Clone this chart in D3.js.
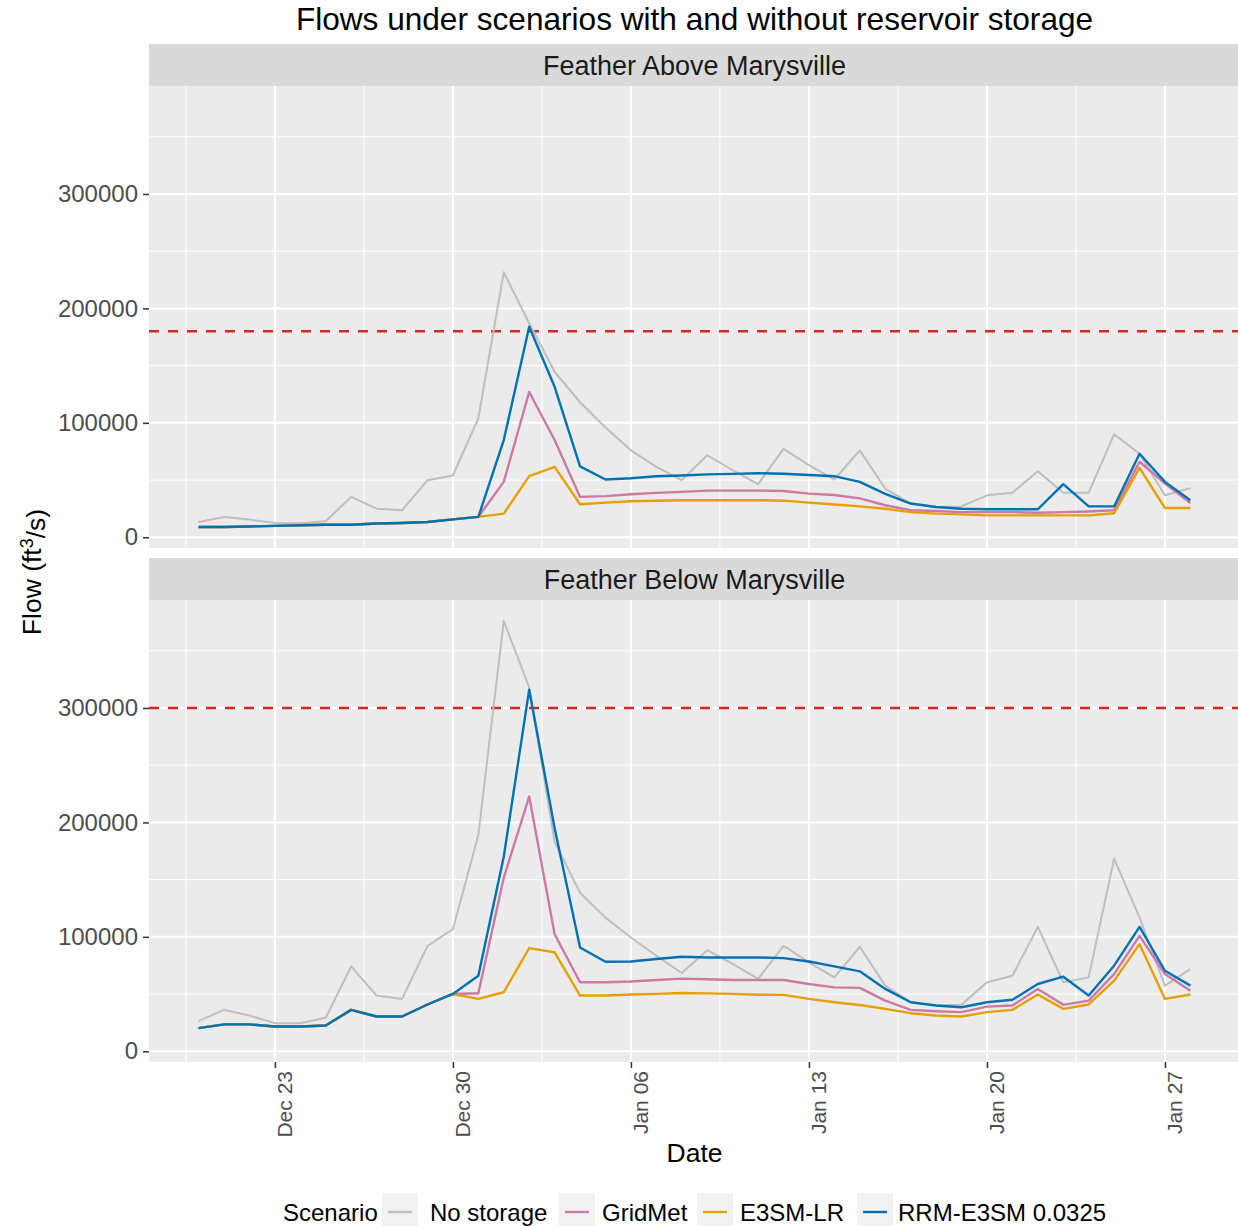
<!DOCTYPE html>
<html>
<head>
<meta charset="utf-8">
<script src="https://cdn.jsdelivr.net/npm/d3@7"></script>
<style>
  body { margin: 0; background: #fff; }
  svg { display: block; font-family: "Liberation Sans", Arial, sans-serif; }
</style>
</head>
<body>
<svg id="chart" width="1238" height="1226"></svg>
<script>
// daily flows, Dec 20 to Jan 28
var dates = d3.timeDay.range(new Date(2016, 11, 20), new Date(2017, 0, 29))

var tickDates = [new Date(2016, 11, 23), new Date(2016, 11, 30), new Date(2017, 0, 6),
                 new Date(2017, 0, 13), new Date(2017, 0, 20), new Date(2017, 0, 27)]
var tickLabels = ["Dec 23", "Dec 30", "Jan 06", "Jan 13", "Jan 20", "Jan 27"]
var yTicks = [0, 100000, 200000, 300000]
var yMinor = [50000, 150000, 250000, 350000]

var scenarios = ["No storage", "GridMet", "E3SM-LR", "RRM-E3SM 0.0325"]
var colors = ["#BEBEBE", "#CC79A7", "#E69F00", "#0072B2"]

var panelNames = ["Feather Above Marysville", "Feather Below Marysville"]
var floodLimits = [180000, 300000]

// Feather Above Marysville
var aboveNoStorage = [13400, 17800, 15500, 12500, 12200, 14000, 35300, 25000, 23600, 49900,
  54000, 104000, 231600, 187000, 144600, 118000, 96000, 76000, 61500, 50000,
  71700, 58600, 46400, 77300, 63000, 50500, 76000, 42600, 29500, 26500,
  27000, 36700, 39000, 57700, 39000, 39000, 90000, 73000, 36700, 43000]
var aboveGridMet = [9000, 9000, 9500, 10000, 10500, 11000, 11000, 12000, 12500, 13400,
  15700, 17800, 48400, 127000, 85000, 35300, 36000, 37600, 38800, 39700,
  40800, 40800, 40800, 40500, 38200, 37000, 34000, 28000, 23600, 23000,
  22000, 22000, 22000, 21500, 22000, 22600, 23600, 66000, 47000, 30000]
var aboveE3SMLR = [9000, 9000, 9500, 10000, 10500, 11000, 11000, 12000, 12500, 13400,
  15700, 17800, 20700, 53400, 61500, 28900, 30300, 31500, 32000, 32400,
  32400, 32400, 32400, 32000, 30300, 28600, 27000, 25000, 22000, 20700,
  20000, 19200, 19200, 19200, 19200, 19200, 21000, 60600, 25600, 25600]
var aboveRRM = [9000, 9000, 9500, 10000, 10500, 11000, 11000, 12000, 12500, 13400,
  15700, 17800, 85000, 184000, 131500, 62000, 50500, 51600, 53400, 54000,
  55000, 55400, 56000, 55500, 54500, 53400, 48400, 38000, 29500, 26500,
  25000, 24500, 24500, 24500, 46400, 27000, 27000, 73000, 48400, 32400]

// Feather Below Marysville
var belowNoStorage = [26400, 36200, 31300, 24600, 24600, 29300, 74200, 48700, 45800, 92000,
  106700, 189000, 376000, 318000, 183000, 138500, 116800, 99400, 83500, 68400,
  88400, 76300, 63200, 92200, 77700, 64600, 91300, 57400, 42900, 40000,
  40600, 60300, 66000, 108700, 60300, 64600, 168400, 116800, 57400, 71900]
var belowGridMet = [20300, 23500, 23500, 21700, 21700, 22600, 36200, 30400, 30400, 40900,
  50100, 50700, 151600, 222600, 102300, 60300, 60300, 61000, 62300, 63500,
  63000, 62300, 62300, 62300, 58800, 55900, 55400, 44300, 36200, 35000,
  34200, 39000, 40000, 54500, 40600, 44300, 67500, 100900, 67500, 53000]
var belowE3SMLR = [20300, 23500, 23500, 21700, 21700, 22600, 36200, 30400, 30400, 40900,
  50100, 45800, 51600, 90200, 86400, 48700, 48700, 49600, 50200, 51000,
  50600, 50200, 49400, 49300, 45800, 42900, 40500, 37100, 33300, 31300,
  30400, 34200, 36200, 49600, 37100, 40900, 61700, 93600, 45800, 49600]
var belowRRM = [20300, 23500, 23500, 21700, 21700, 22600, 36200, 30400, 30400, 40900,
  50100, 66000, 170000, 316000, 195000, 90700, 78300, 78500, 80600, 82600,
  82000, 82000, 82000, 81400, 78500, 74200, 69900, 54500, 42900, 40000,
  38500, 42900, 45000, 58800, 65200, 48700, 74800, 108700, 70400, 57400]

var panelSeries = [
  [aboveNoStorage, aboveGridMet, aboveE3SMLR, aboveRRM],
  [belowNoStorage, belowGridMet, belowE3SMLR, belowRRM]
]

var dims = {
  left: 149, right: 1240,
  panels: [{ strip: 44, top: 86, bottom: 548 }, { strip: 558, top: 600, bottom: 1062 }]
}

var svg = d3.select("#chart")

// ggplot style 5% expansion on both axes
var day = 24 * 3600 * 1000
var span = dates[dates.length - 1] - dates[0]
var xScale = d3.scaleTime()
  .domain([new Date(+dates[0] - span * 0.05), new Date(+dates[dates.length - 1] + span * 0.05)])
  .range([dims.left, dims.right])

var allVals = panelSeries.flat(2)
var yMin = d3.min(allVals), yMax = d3.max(allVals)
var yPad = (yMax - yMin) * 0.05
var yDomain = [yMin - yPad, yMax + yPad]

var xMinor = tickDates.map(d => new Date(+d - 3.5 * day))

svg.append("text")
  .attr("x", (dims.left + dims.right) / 2)
  .attr("y", 30)
  .attr("text-anchor", "middle")
  .style("font-size", "31.6px")
  .attr("fill", "#000")
  .text("Flows under scenarios with and without reservoir storage")

svg.append("defs").selectAll("clipPath")
  .data(dims.panels)
  .enter().append("clipPath")
  .attr("id", (d, i) => "clip" + i)
  .append("rect")
  .attr("x", dims.left).attr("y", d => d.top)
  .attr("width", dims.right - dims.left).attr("height", d => d.bottom - d.top)

dims.panels.forEach(function (p, pi) {
  var yScale = d3.scaleLinear().domain(yDomain).range([p.bottom, p.top])
  var g = svg.append("g")

  // strip
  g.append("rect")
    .attr("x", dims.left).attr("y", p.strip)
    .attr("width", dims.right - dims.left).attr("height", p.top - p.strip)
    .attr("fill", "#D9D9D9")
  g.append("text")
    .attr("x", (dims.left + dims.right) / 2)
    .attr("y", (p.strip + p.top) / 2)
    .attr("dy", "0.36em")
    .attr("text-anchor", "middle")
    .style("font-size", "27px")
    .attr("fill", "#1A1A1A")
    .text(panelNames[pi])

  // panel + grid
  g.append("rect")
    .attr("x", dims.left).attr("y", p.top)
    .attr("width", dims.right - dims.left).attr("height", p.bottom - p.top)
    .attr("fill", "#EBEBEB")

  g.selectAll(".yminor").data(yMinor).enter().append("line")
    .attr("x1", dims.left).attr("x2", dims.right)
    .attr("y1", d => yScale(d)).attr("y2", d => yScale(d))
    .attr("stroke", "#fff").attr("stroke-width", 1)
  g.selectAll(".xminor").data(xMinor).enter().append("line")
    .attr("y1", p.top).attr("y2", p.bottom)
    .attr("x1", d => xScale(d)).attr("x2", d => xScale(d))
    .attr("stroke", "#fff").attr("stroke-width", 1)
  g.selectAll(".ymajor").data(yTicks).enter().append("line")
    .attr("x1", dims.left).attr("x2", dims.right)
    .attr("y1", d => yScale(d)).attr("y2", d => yScale(d))
    .attr("stroke", "#fff").attr("stroke-width", 2)
  g.selectAll(".xmajor").data(tickDates).enter().append("line")
    .attr("y1", p.top).attr("y2", p.bottom)
    .attr("x1", d => xScale(d)).attr("x2", d => xScale(d))
    .attr("stroke", "#fff").attr("stroke-width", 2)

  // y axis
  var yAxis = g.append("g")
    .attr("transform", `translate(${dims.left},0)`)
    .call(d3.axisLeft(yScale).tickValues(yTicks).tickSize(6).tickPadding(5).tickFormat(d3.format("d")))
  yAxis.select(".domain").remove()
  yAxis.selectAll(".tick line").attr("stroke", "#333").attr("stroke-width", 1.5)
  yAxis.selectAll(".tick text")
    .style("font-size", "24px").style("font-family", "Liberation Sans, Arial, sans-serif")
    .attr("fill", "#4D4D4D")

  // lines
  var lineGen = d3.line()
    .x((d, i) => xScale(dates[i]))
    .y(d => yScale(d))
  var lines = g.append("g").attr("clip-path", `url(#clip${pi})`)

  lines.append("line")
    .attr("x1", dims.left).attr("x2", dims.right)
    .attr("y1", yScale(floodLimits[pi])).attr("y2", yScale(floodLimits[pi]))
    .attr("stroke", "#D7261E").attr("stroke-width", 2.6)
    .attr("stroke-dasharray", "10,9")

  panelSeries[pi].forEach(function (vals, si) {
    lines.append("path")
      .datum(vals)
      .attr("d", lineGen)
      .attr("fill", "none")
      .attr("stroke", colors[si])
      .attr("stroke-width", si == 0 ? 2 : 2.4)
      .attr("stroke-linejoin", "round")
  })
})

// x axis under bottom panel
var lastPanel = dims.panels[1]
var xAxis = svg.append("g")
  .attr("transform", `translate(0,${lastPanel.bottom})`)
  .call(d3.axisBottom(xScale).tickValues(tickDates).tickSize(6).tickFormat((d, i) => tickLabels[i]))
xAxis.select(".domain").remove()
xAxis.selectAll(".tick line").attr("stroke", "#333").attr("stroke-width", 1.5)
xAxis.selectAll(".tick text")
  .style("font-size", "21px").style("font-family", "Liberation Sans, Arial, sans-serif")
  .attr("fill", "#4D4D4D")
  .attr("text-anchor", "end")
  .attr("y", 0).attr("x", 0)
  .attr("dy", "0.36em")
  .attr("transform", "translate(9,9) rotate(-90)")

svg.append("text")
  .attr("x", (dims.left + dims.right) / 2)
  .attr("y", 1162)
  .attr("text-anchor", "middle")
  .style("font-size", "26.5px")
  .text("Date")

var yTitle = svg.append("text")
  .attr("transform", "translate(41,572) rotate(-90)")
  .attr("text-anchor", "middle")
  .style("font-size", "26.5px")
yTitle.append("tspan").text("Flow (ft")
yTitle.append("tspan").attr("dy", "-0.45em").style("font-size", "18px").text("3")
yTitle.append("tspan").attr("dy", "0.45em").text("/s)")

// legend
var legendY = 1212
var keyX = [382, 559, 697, 857]
var labelX = [430, 602, 740, 898]
var legend = svg.append("g")
legend.append("text")
  .attr("x", 283).attr("y", legendY).attr("dy", "0.36em")
  .style("font-size", "24px").attr("fill", "#000")
  .text("Scenario")
scenarios.forEach(function (name, i) {
  legend.append("rect")
    .attr("x", keyX[i]).attr("y", legendY - 19)
    .attr("width", 36).attr("height", 38)
    .attr("fill", "#F2F2F2")
  legend.append("line")
    .attr("x1", keyX[i] + 6).attr("x2", keyX[i] + 30)
    .attr("y1", legendY).attr("y2", legendY)
    .attr("stroke", colors[i]).attr("stroke-width", 2.4)
  legend.append("text")
    .attr("x", labelX[i]).attr("y", legendY).attr("dy", "0.36em")
    .style("font-size", "24px").attr("fill", "#000")
    .text(name)
})
</script>
</body>
</html>
